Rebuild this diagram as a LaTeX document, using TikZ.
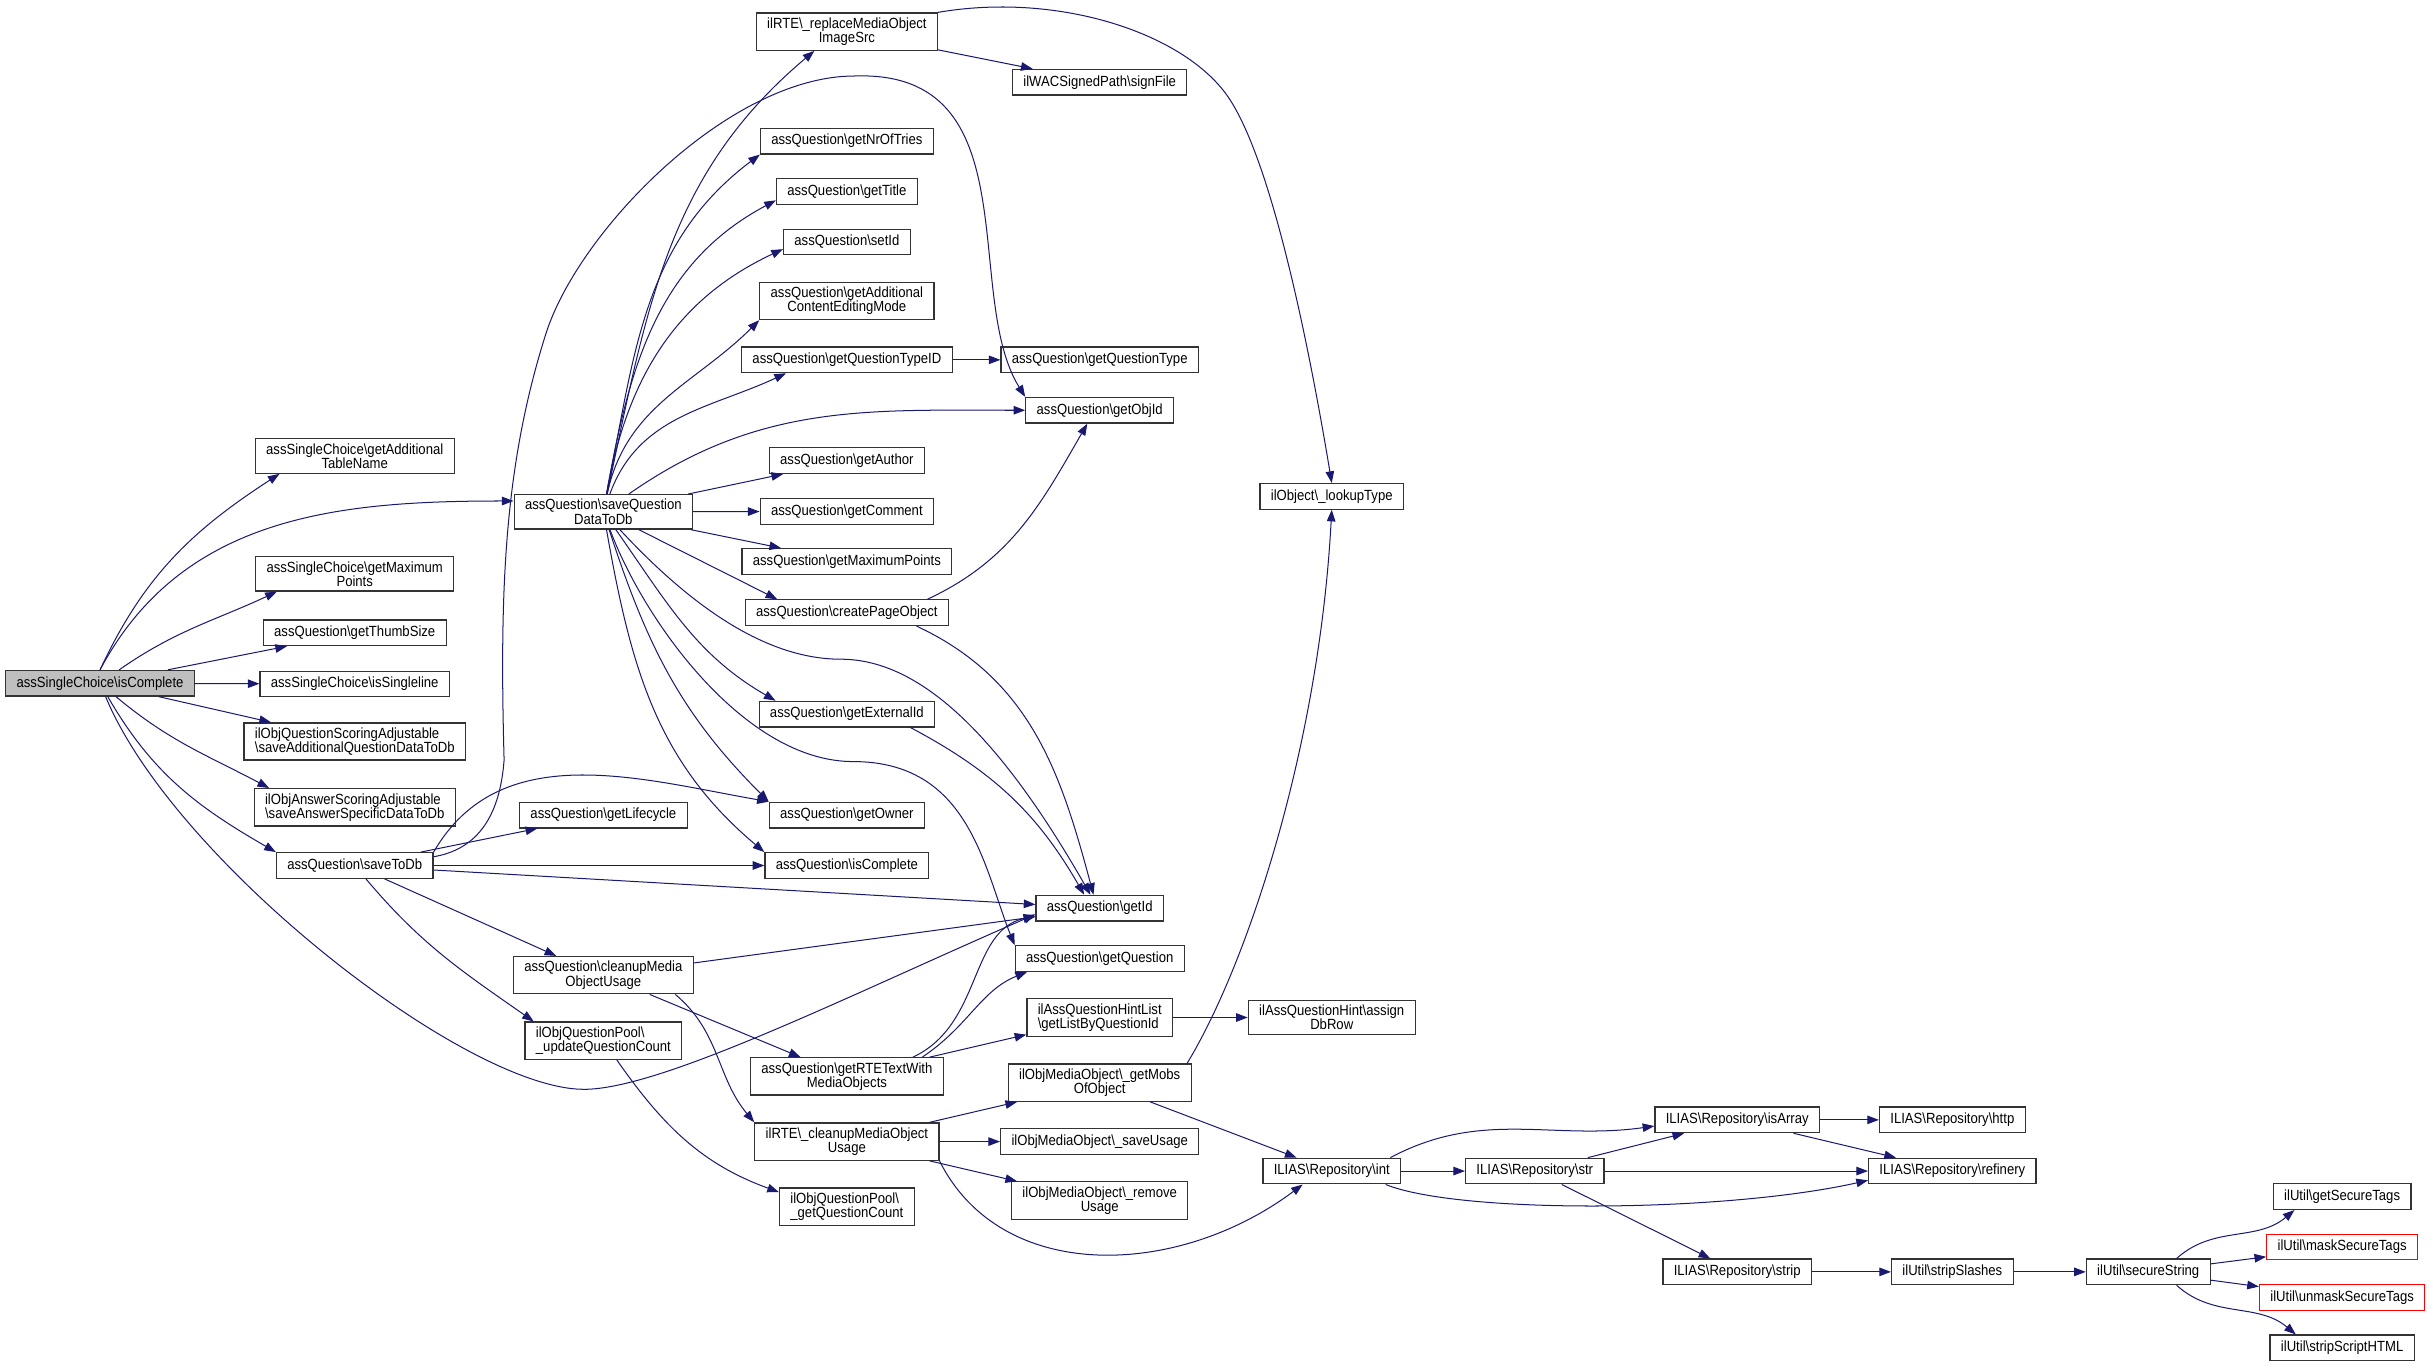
\documentclass[tikz,border=0pt]{standalone}
\usepackage{fontspec}
\setmainfont{Liberation Sans}[FakeStretch=0.89]
\usetikzlibrary{arrows.meta}
\definecolor{callBlue}{HTML}{191970}
\definecolor{rootGray}{HTML}{BFBFBF}
\definecolor{cutRed}{HTML}{FF0000}
\newcommand{\nsep}{\textbackslash}
\tikzset{
  fn/.style = {
    draw=black!80,
    fill=white,
    rectangle,
    line width=.8pt,
    inner xsep=7pt,
    inner ysep=3pt,
    minimum height=16.5pt,
    align=center,
    font=\fontsize{9.5}{9.2}\selectfont,
  },
  root/.style = {
    fn,
    fill=rootGray,
  },
  cut/.style = {
    fn,
    draw=cutRed,
  },
  calls/.style = {
    draw=callBlue,
    line width=.65pt,
    -{Triangle[length=7.5pt, width=5.5pt]},
  },
}

\begin{document}
\begin{tikzpicture}[x=1pt, y=1pt]
\useasboundingbox (0,0) rectangle (1568.6,-882);

% rank 0 and 1
\node(IsComplete)[root] at (64.5,-440.5) {assSingleChoice\nsep isComplete};
\node(GetAdditionalTableName)[fn] at (228.7,-294) {assSingleChoice\nsep getAdditional\\TableName};
\node(GetMaximumPointsSC)[fn] at (228.7,-370) {assSingleChoice\nsep getMaximum\\Points};
\node(GetThumbSize)[fn] at (228.7,-408) {assQuestion\nsep getThumbSize};
\node(IsSingleline)[fn] at (228.7,-441) {assSingleChoice\nsep isSingleline};
\node(SaveAdditionalQuestionData)[fn, align=left] at (228.7,-478) {ilObjQuestionScoringAdjustable\\\nsep saveAdditionalQuestionDataToDb};
\node(SaveAnswerSpecificData)[fn, align=left] at (228.7,-520.5) {ilObjAnswerScoringAdjustable\\\nsep saveAnswerSpecificDataToDb};
\node(SaveToDb)[fn] at (228.7,-558) {assQuestion\nsep saveToDb};

% rank 2
\node(SaveQuestionDataToDb)[fn] at (389,-330) {assQuestion\nsep saveQuestion\\DataToDb};
\node(GetLifecycle)[fn] at (389,-525.5) {assQuestion\nsep getLifecycle};
\node(CleanupMediaObjectUsage)[fn] at (389,-628.7) {assQuestion\nsep cleanupMedia\\ObjectUsage};
\node(UpdateQuestionCount)[fn, align=left] at (389,-671) {ilObjQuestionPool\nsep\\\_updateQuestionCount};

% rank 3
\node(ReplaceMediaObjectImageSrc)[fn] at (546,-20.4) {ilRTE\nsep\_replaceMediaObject\\ImageSrc};
\node(GetNrOfTries)[fn] at (546,-91) {assQuestion\nsep getNrOfTries};
\node(GetTitle)[fn] at (546,-123.5) {assQuestion\nsep getTitle};
\node(SetId)[fn] at (546,-156) {assQuestion\nsep setId};
\node(GetAdditionalContentEditingMode)[fn] at (546,-194) {assQuestion\nsep getAdditional\\ContentEditingMode};
\node(GetQuestionTypeID)[fn] at (546,-232) {assQuestion\nsep getQuestionTypeID};
\node(GetAuthor)[fn] at (546,-297) {assQuestion\nsep getAuthor};
\node(GetComment)[fn] at (546,-329.7) {assQuestion\nsep getComment};
\node(GetMaximumPoints)[fn] at (546,-362) {assQuestion\nsep getMaximumPoints};
\node(CreatePageObject)[fn] at (546,-395) {assQuestion\nsep createPageObject};
\node(GetExternalId)[fn] at (546,-460.4) {assQuestion\nsep getExternalId};
\node(GetOwner)[fn] at (546,-525.5) {assQuestion\nsep getOwner};
\node(IsCompleteQuestion)[fn] at (546,-558) {assQuestion\nsep isComplete};
\node(GetRTETextWithMediaObjects)[fn] at (546,-694) {assQuestion\nsep getRTETextWith\\MediaObjects};
\node(CleanupRTEUsage)[fn] at (546,-736) {ilRTE\nsep\_cleanupMediaObject\\Usage};
\node(GetQuestionCount)[fn, align=left] at (546,-778) {ilObjQuestionPool\nsep\\\_getQuestionCount};

% rank 4
\node(SignFile)[fn] at (709,-53) {ilWACSignedPath\nsep signFile};
\node(GetQuestionType)[fn] at (709,-232) {assQuestion\nsep getQuestionType};
\node(GetObjId)[fn] at (709,-264.5) {assQuestion\nsep getObjId};
\node(GetId)[fn] at (709,-585.5) {assQuestion\nsep getId};
\node(GetQuestion)[fn] at (709,-618) {assQuestion\nsep getQuestion};
\node(GetListByQuestionId)[fn, align=left] at (709,-656) {ilAssQuestionHintList\\\nsep getListByQuestionId};
\node(GetMobsOfObject)[fn] at (709,-698) {ilObjMediaObject\nsep\_getMobs\\OfObject};
\node(SaveUsage)[fn] at (709,-736) {ilObjMediaObject\nsep\_saveUsage};
\node(RemoveUsage)[fn] at (709,-774) {ilObjMediaObject\nsep\_remove\\Usage};

% rank 5 and beyond
\node(LookupType)[fn] at (858.6,-320) {ilObject\nsep\_lookupType};
\node(AssignDbRow)[fn] at (858.6,-656) {ilAssQuestionHint\nsep assign\\DbRow};
\node(RepoInt)[fn] at (858.6,-755) {ILIAS\nsep Repository\nsep int};
\node(RepoStr)[fn] at (989.5,-755) {ILIAS\nsep Repository\nsep str};
\node(RepoIsArray)[fn] at (1120,-722) {ILIAS\nsep Repository\nsep isArray};
\node(RepoStrip)[fn] at (1120,-820) {ILIAS\nsep Repository\nsep strip};
\node(RepoHttp)[fn] at (1258.7,-722) {ILIAS\nsep Repository\nsep http};
\node(RepoRefinery)[fn] at (1258.7,-755) {ILIAS\nsep Repository\nsep refinery};
\node(StripSlashes)[fn] at (1258.7,-820) {ilUtil\nsep stripSlashes};
\node(SecureString)[fn] at (1385,-820) {ilUtil\nsep secureString};
\node(GetSecureTags)[fn] at (1510,-771.5) {ilUtil\nsep getSecureTags};
\node(MaskSecureTags)[cut] at (1510,-804) {ilUtil\nsep maskSecureTags};
\node(UnmaskSecureTags)[cut] at (1510,-836.6) {ilUtil\nsep unmaskSecureTags};
\node(StripScriptHTML)[fn] at (1510,-869) {ilUtil\nsep stripScriptHTML};

% calls of the root
\draw[calls] (IsComplete.north) to[out=65, in=213] ([xshift=16pt]GetAdditionalTableName.south west);
\draw[calls] (IsComplete.north) to[out=62, in=180] ([yshift=7pt]SaveQuestionDataToDb.west);
\draw[calls] (IsComplete) to[out=35, in=205] ([xshift=14pt]GetMaximumPointsSC.south west);
\draw[calls] (IsComplete) -- (GetThumbSize);
\draw[calls] (IsComplete) -- (IsSingleline);
\draw[calls] (IsComplete) -- (SaveAdditionalQuestionData);
\draw[calls] (IsComplete) to[out=-40, in=152] ([xshift=10pt]SaveAnswerSpecificData.north west);
\draw[calls] (IsComplete) to[out=-60, in=150] (SaveToDb.north west);
\draw[calls] (IsComplete) .. controls (112,-555) and (300,-702.3) .. (376.5,-702.3)
  .. controls (426.5,-702.3) and (548,-641.4) .. ([yshift=-4pt]GetId.west);

% saveQuestionDataToDb
\draw[calls] (SaveQuestionDataToDb) to[out=78, in=220] ([xshift=-21pt]ReplaceMediaObjectImageSrc.south);
\draw[calls] (SaveQuestionDataToDb) to[out=79, in=217] (GetNrOfTries.south west);
\draw[calls] (SaveQuestionDataToDb) to[out=80, in=208] ([yshift=3pt]GetTitle.south west);
\draw[calls] (SaveQuestionDataToDb) to[out=80, in=205] ([yshift=4pt]SetId.south west);
\draw[calls] (SaveQuestionDataToDb) to[out=78, in=225] (GetAdditionalContentEditingMode.south west);
\draw[calls] (SaveQuestionDataToDb) to[out=70, in=205] ([xshift=29pt]GetQuestionTypeID.south west);
\draw[calls] (SaveQuestionDataToDb) to[out=35, in=180] (GetObjId.west);
\draw[calls] (SaveQuestionDataToDb) -- (GetAuthor);
\draw[calls] (SaveQuestionDataToDb) -- (GetComment);
\draw[calls] (SaveQuestionDataToDb) -- (GetMaximumPoints);
\draw[calls] (SaveQuestionDataToDb) -- ([xshift=21pt]CreatePageObject.north west);
\draw[calls] (SaveQuestionDataToDb) to[out=-55, in=150] ([xshift=11pt]GetExternalId.north west);
\draw[calls] (SaveQuestionDataToDb) .. controls +(51,-55) and +(-52,0) .. (542,-425)
  .. controls +(50,0) and +(-60,105) .. ([xshift=-6pt]GetId.north);
\draw[calls] (SaveQuestionDataToDb) .. controls +(26,-70) and +(-70,0) .. (550,-491)
  .. controls +(75,0) and +(-20,50) .. (GetQuestion.north west);
\draw[calls] (SaveQuestionDataToDb) to[out=-72, in=135] (GetOwner.north west);
\draw[calls] (SaveQuestionDataToDb) to[out=-80, in=140] (IsCompleteQuestion.north west);

% saveToDb
\draw[calls] ([yshift=-3pt]SaveToDb.north east) .. controls (305,-548) and (322,-530) .. (325,-490)
  .. controls (322,-380) and (325,-300) .. (352,-215)
  .. controls (373,-149) and (470,-49) .. (551,-49)
  .. controls (665,-45) and (620,-190) .. (GetObjId.north west);
\draw[calls] (SaveToDb) -- (GetLifecycle);
\draw[calls] (SaveToDb.north east) to[out=60, in=170] (GetOwner.north west);
\draw[calls] (SaveToDb) -- (IsCompleteQuestion);
\draw[calls] (SaveToDb) -- (GetId);
\draw[calls] (SaveToDb) -- ([xshift=28pt]CleanupMediaObjectUsage.north west);
\draw[calls] (SaveToDb) to[out=-50, in=145] ([xshift=6pt]UpdateQuestionCount.north west);

% media objects and question pool
\draw[calls] (CleanupMediaObjectUsage) -- (GetId);
\draw[calls] (CleanupMediaObjectUsage) -- (GetRTETextWithMediaObjects);
\draw[calls] ([xshift=-12pt]CleanupMediaObjectUsage.south east) to[out=-40, in=130] (CleanupRTEUsage.north west);
\draw[calls] (UpdateQuestionCount) to[out=-55, in=160] ([yshift=-3pt]GetQuestionCount.north west);
\draw[calls] ([xshift=-20pt]GetRTETextWithMediaObjects.north east) .. controls +(45,21) and +(-43,-9.5) .. ([yshift=-5pt]GetId.west);
\draw[calls] ([xshift=-14pt]GetRTETextWithMediaObjects.north east) .. controls +(30,20) and +(-30,-12) .. ([xshift=8pt]GetQuestion.south west);
\draw[calls] (GetRTETextWithMediaObjects) -- (GetListByQuestionId);
\draw[calls] (CleanupRTEUsage) -- (GetMobsOfObject);
\draw[calls] (CleanupRTEUsage) -- (SaveUsage);
\draw[calls] (CleanupRTEUsage) -- (RemoveUsage);
\draw[calls] (CleanupRTEUsage.south east) .. controls +(40,-80) and +(-80,-60) .. ([xshift=26pt]RepoInt.south west);

% rank 3 to rank 5
\draw[calls] (ReplaceMediaObjectImageSrc) -- (SignFile);
\draw[calls] (ReplaceMediaObjectImageSrc.north east) .. controls +(75.5,13) and +(-30,40) .. (790,-60)
  .. controls +(30,-40) and +(-13.6,82) .. (LookupType.north);
\draw[calls] (GetQuestionTypeID) -- (GetQuestionType);
\draw[calls] ([xshift=-14pt]CreatePageObject.north east) to[out=25, in=240] ([xshift=-8pt]GetObjId.south);
\draw[calls] ([xshift=-21pt]CreatePageObject.south east) to[out=-25, in=105] ([xshift=-4pt]GetId.north);
\draw[calls] ([xshift=-16pt]GetExternalId.south east) to[out=-28, in=120] ([xshift=-10pt]GetId.north);
\draw[calls] ([xshift=-3pt]GetMobsOfObject.north east) .. controls +(40,66) and +(-8,-150) .. (LookupType.south);
\draw[calls] (GetMobsOfObject) -- (RepoInt);
\draw[calls] (GetListByQuestionId) -- (AssignDbRow);

% repository and ilUtil
\draw[calls] ([xshift=-7pt]RepoInt.north east) to[out=28, in=188] ([yshift=-4pt]RepoIsArray.west);
\draw[calls] (RepoInt) -- (RepoStr);
\draw[calls] ([xshift=-10pt]RepoInt.south east) .. controls +(46.6,-19) and +(-94,-21) .. ([yshift=-6pt]RepoRefinery.west);
\draw[calls] (RepoStr) -- (RepoIsArray);
\draw[calls] (RepoStr) -- (RepoRefinery);
\draw[calls] (RepoStr) -- (RepoStrip);
\draw[calls] (RepoIsArray) -- (RepoHttp);
\draw[calls] (RepoIsArray) -- (RepoRefinery);
\draw[calls] (RepoStrip) -- (StripSlashes);
\draw[calls] (StripSlashes) -- (SecureString);
\draw[calls] ([xshift=-22pt]SecureString.north east) to[out=42, in=220] ([xshift=14pt]GetSecureTags.south west);
\draw[calls] (SecureString) -- (MaskSecureTags);
\draw[calls] (SecureString) -- (UnmaskSecureTags);
\draw[calls] ([xshift=-22pt]SecureString.south east) to[out=-42, in=140] ([xshift=17pt]StripScriptHTML.north west);

\end{tikzpicture}
\end{document}
